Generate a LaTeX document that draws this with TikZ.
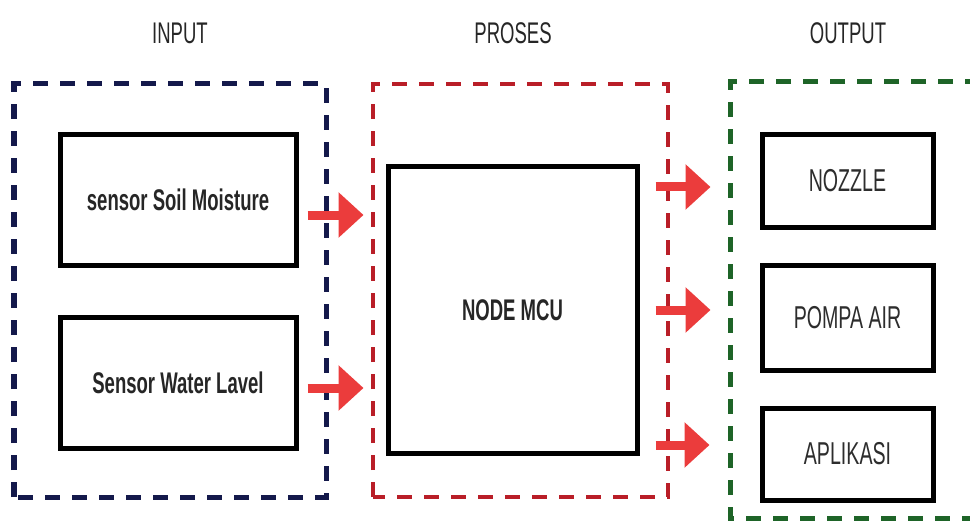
\documentclass[tikz,border=0pt]{standalone}
\usepackage{fontspec}
\setmainfont{Liberation Sans}[FakeStretch=0.62]
\usepackage{tikz}
\usetikzlibrary{positioning,calc,arrows.meta}
\definecolor{NavyLine}{RGB}{20,25,75}
\definecolor{RedLine}{RGB}{185,30,40}
\definecolor{GreenLine}{RGB}{30,100,40}
\definecolor{ArrowRed}{RGB}{235,60,60}
\definecolor{LabelGray}{RGB}{45,45,45}

\begin{document}
\begin{tikzpicture}[
    groupbox/.style={line width=0.1cm,dash pattern=on 0.3cm off 0.24cm},
    block/.style={draw=black,line width=0.1cm,fill=white,inner sep=0pt},
    title/.style={font=\fontsize{17}{19}\selectfont,text=black!85},
    flow/.style={ArrowRed,line width=0.18cm,-{Triangle[length=0.5cm,width=0.88cm]}}
  ]
    \useasboundingbox (0,0) rectangle (19.4,10.5);
    % titles
    \node[title] (tin) at (3.6,9.84) {INPUT};
    \node[title] (tpro) at (10.26,9.84) {PROSES};
    \node[title] (tout) at (16.96,9.84) {OUTPUT};
    % dashed groups
    \draw[groupbox,NavyLine] (0.28,0.56) rectangle (6.52,8.82);
    \draw[groupbox,RedLine,line width=0.085cm] (7.46,0.56) rectangle (13.36,8.82);
    \draw[groupbox,GreenLine] (19.6,8.86) -- (14.6,8.86) -- (14.6,0.14) -- (19.6,0.14);
    % input blocks
    \node[block,minimum width=4.72cm,minimum height=2.6cm,font=\fontsize{17}{19}\selectfont\bfseries,text=black!85] (soil) at (3.56,6.5) {sensor Soil Moisture};
    \node[block,minimum width=4.72cm,minimum height=2.62cm,font=\fontsize{17}{19}\selectfont\bfseries,text=black!85] (water) at (3.56,2.85) {Sensor Water Lavel};
    % process block
    \node[block,minimum width=4.98cm,minimum height=5.72cm,font=\fontsize{17}{19}\selectfont\bfseries,text=black!85] (mcu) at (10.25,4.3) {NODE MCU};
    % output blocks
    \node[block,minimum width=3.42cm,minimum height=1.84cm,text=LabelGray,font=\fontsize{18}{20}\selectfont] (nozzle) at (16.95,6.88) {NOZZLE};
    \node[block,minimum width=3.42cm,minimum height=2.1cm,text=LabelGray,font=\fontsize{18}{20}\selectfont] (pompa) at (16.95,4.15) {POMPA AIR};
    \node[block,minimum width=3.42cm,minimum height=1.84cm,text=LabelGray,font=\fontsize{18}{20}\selectfont] (apl) at (16.95,1.42) {APLIKASI};
    % arrows
    \draw[flow,shorten <=0.18cm,shorten >=0.44cm] ($(soil.east)+(0,-0.3)$) -- ($(soil.east -| mcu.west)+(0,-0.3)$);
    \draw[flow,shorten <=0.18cm,shorten >=0.44cm] ($(water.east)+(0,-0.11)$) -- ($(water.east -| mcu.west)+(0,-0.11)$);
    \draw[flow,shorten <=0.32cm,shorten >=0.98cm] ($(nozzle.west -| mcu.east)+(0,-0.12)$) -- ($(nozzle.west)+(0,-0.12)$);
    \draw[flow,shorten <=0.32cm,shorten >=0.98cm] (mcu.east) -- (mcu.east -| pompa.west);
    \draw[flow,shorten <=0.32cm,shorten >=1.0cm] ($(apl.west -| mcu.east)+(0,0.18)$) -- ($(apl.west)+(0,0.18)$);
\end{tikzpicture}
\end{document}
